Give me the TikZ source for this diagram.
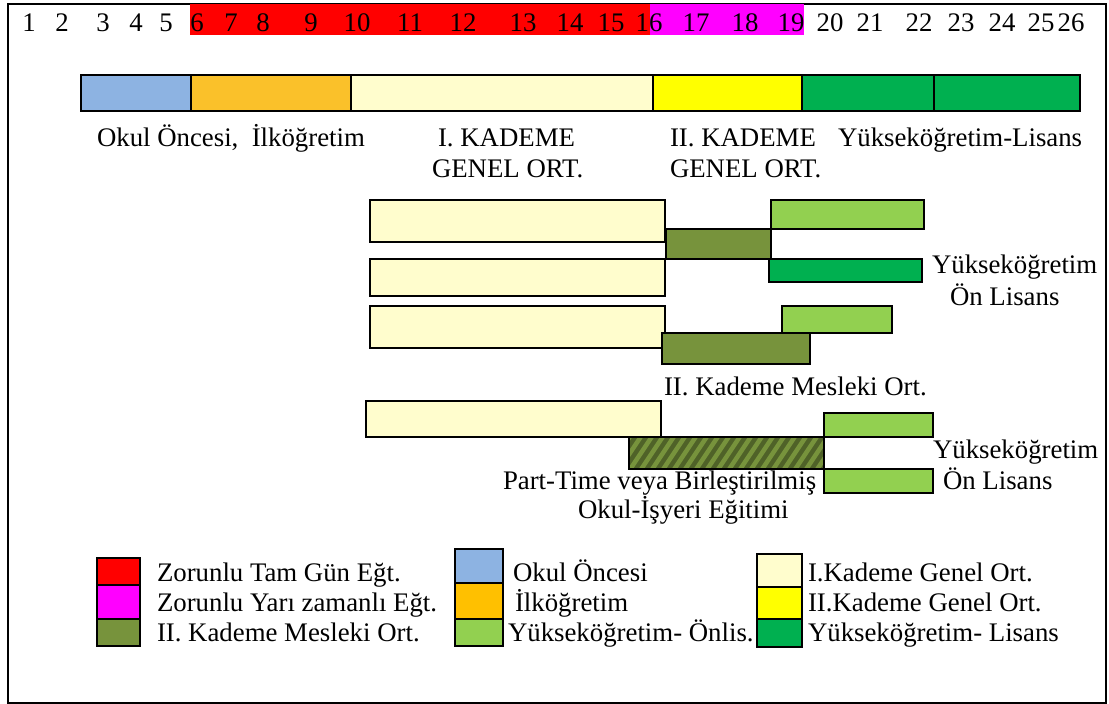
\documentclass[tikz,border=0pt]{standalone}
\usepackage{fontspec}
\setmainfont{Liberation Serif}
\definecolor{cred}{HTML}{FF0000}
\definecolor{cmag}{HTML}{FF00FF}
\definecolor{cblue}{HTML}{8DB3E2}
\definecolor{corangebar}{HTML}{FAC12A}
\definecolor{corange}{HTML}{FFC000}
\definecolor{clyel}{HTML}{FFFDCD}
\definecolor{cyel}{HTML}{FFFF00}
\definecolor{cgreen}{HTML}{00B050}
\definecolor{clgreen}{HTML}{92D050}
\definecolor{colive}{HTML}{77933C}
\definecolor{cdolive}{HTML}{4F6228}
\newcommand\bx[6]{%
  \pgfmathsetmacro\bxw{#5-#3}\pgfmathsetmacro\bxh{#6-#4}%
  \node[box,#2,minimum width=\bxw pt,minimum height=\bxh pt] (#1) at (#3,#4) {};}
\begin{document}
\frenchspacing
\begin{tikzpicture}[x=1pt,y=-1pt,font=\fontsize{26.8}{31}\selectfont,
  box/.style={draw=black,line width=1.6pt,inner sep=0pt,outer sep=0pt,anchor=north west},
  band/.style={draw=none},
  lbl/.style={anchor=base west,inner sep=0pt,outer sep=0pt},
  num/.style={anchor=base,inner sep=0pt,outer sep=0pt},
  hatch/.style={fill=cdolive,path picture={
      \foreach \i in {-4,...,20}
        \draw[colive,line width=4.5pt]
          ([xshift=\i*11pt,yshift=-2pt]path picture bounding box.south west) -- ++(24pt,36pt);}}
]
\useasboundingbox (0,0) rectangle (1109,704);
\fill[white] (0,0) rectangle (1109,704);
\draw[line width=2pt] (8,4) rectangle (1106,703);
% top bands
\bx{bred}{band,fill=cred}{190}{4}{650}{35}
\bx{bmag}{band,fill=cmag}{650}{4}{804}{35}
% numbers
\foreach \n/\x in {1/29,2/62,3/103,4/136,5/166,6/197,7/231,8/263,9/311,10/357,11/410,12/463,13/523,
                   14/570,15/611,16/649,17/696,18/745,19/791,20/830,21/870,22/919,23/961,24/1002,25/1041,26/1071}
  \node[num] (n\n) at (\x,31) {\n};
% main bar
\bx{ob}{fill=cblue}{81}{75}{191}{111}
\bx{ilk}{fill=corangebar}{191}{75}{351}{111}
\bx{ka}{fill=clyel}{351}{75}{653}{111}
\bx{kb}{fill=cyel}{653}{75}{802}{111}
\bx{lisa}{fill=cgreen}{802}{75}{934}{111}
\bx{lisb}{fill=cgreen}{934}{75}{1080}{111}
% labels under main bar
\node[lbl] (t1) at (97,146) {Okul Öncesi,~ İlköğretim};
\node[lbl] (t2) at (438,146) {I. KADEME};
\node[lbl] (t3) at (432,177) {GENEL ORT.};
\node[lbl] (t4) at (670,146) {II. KADEME};
\node[lbl] (t5) at (670,177) {GENEL ORT.};
\node[lbl] (t6) at (838,146) {Yükseköğretim-Lisans};
% rows
\bx{ga}{fill=clyel}{370}{200}{665}{242}
\bx{ma}{fill=colive}{666}{229}{771}{259}
\bx{oa}{fill=clgreen}{771}{200}{924}{229}
\bx{gb}{fill=clyel}{370}{259}{665}{296}
\bx{la}{fill=cgreen}{769}{259}{922}{282}
\bx{gc}{fill=clyel}{370}{306}{665}{348}
\bx{mb}{fill=colive}{662}{333}{810}{364}
\bx{ob2}{fill=clgreen}{782}{306}{892}{333}
\bx{gd}{fill=clyel}{366}{401}{661}{437}
\bx{pt}{hatch}{629}{437}{824}{469}
\bx{oc}{fill=clgreen}{824}{413}{933}{437}
\bx{od}{fill=clgreen}{824}{469}{933}{493}
\node[lbl] (y1) at (932,273) {Yükseköğretim};
\node[lbl] (y2) at (950,305) {Ön Lisans};
\node[lbl] (mk) at (664,395) {II. Kademe Mesleki Ort.};
\node[lbl] (y3) at (933,458) {Yükseköğretim};
\node[lbl] (y4) at (943,489) {Ön Lisans};
\node[lbl] (p1) at (503,489) {Part-Time veya Birleştirilmiş};
\node[lbl] (p2) at (578,518) {Okul-İşyeri Eğitimi};
% legend
\bx{lr}{fill=cred}{97}{558}{140}{585}
\bx{lm}{fill=cmag}{97}{585}{140}{619}
\bx{lo}{fill=colive}{97}{619}{140}{646}
\bx{lb}{fill=cblue}{455}{549}{503}{583}
\bx{ly}{fill=corange}{455}{583}{503}{619}
\bx{lg}{fill=clgreen}{455}{619}{503}{646}
\bx{lk1}{fill=clyel}{757}{554}{802}{587}
\bx{lk2}{fill=cyel}{757}{587}{802}{619}
\bx{ll}{fill=cgreen}{757}{619}{802}{647}
\node[lbl] (e1) at (157,581) {Zorunlu Tam Gün Eğt.};
\node[lbl] (e2) at (157,611) {Zorunlu Yarı zamanlı Eğt.};
\node[lbl] (e3) at (157,641) {II. Kademe Mesleki Ort.};
\node[lbl] (e4) at (513,581) {Okul Öncesi};
\node[lbl] (e5) at (515,611) {İlköğretim};
\node[lbl] (e6) at (508,641) {Yükseköğretim- Önlis.};
\node[lbl] (e7) at (808,581) {I.Kademe Genel Ort.};
\node[lbl] (e8) at (808,611) {II.Kademe Genel Ort.};
\node[lbl] (e9) at (808,641) {Yükseköğretim- Lisans};
\end{tikzpicture}
\end{document}
